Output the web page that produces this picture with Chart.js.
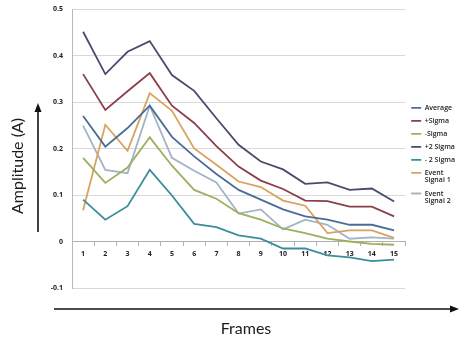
<!DOCTYPE html>
<html>
<head>
<meta charset="utf-8">
<script src="https://cdn.jsdelivr.net/npm/chart.js@4"></script>
<style>
  html, body { margin: 0; padding: 0; background: #fff; }
  #wrap { width: 474px; height: 349px; position: relative; }
</style>
</head>
<body>
<div id="wrap"><canvas id="ampChart"></canvas></div>
<script>
const frames = ["1", "2", "3", "4", "5", "6", "7", "8", "9", "10", "11", "12", "13", "14", "15"];

const average     = [0.270, 0.204, 0.244, 0.292, 0.225, 0.183, 0.145, 0.111, 0.090, 0.069, 0.054, 0.047, 0.036, 0.036, 0.024];
const plusSigma   = [0.360, 0.283, 0.323, 0.362, 0.292, 0.255, 0.205, 0.161, 0.131, 0.113, 0.088, 0.087, 0.075, 0.075, 0.054];
const minusSigma  = [0.180, 0.126, 0.159, 0.224, 0.163, 0.111, 0.092, 0.061, 0.047, 0.028, 0.018, 0.006, 0.000, -0.005, -0.007];
const plus2Sigma  = [0.451, 0.360, 0.408, 0.431, 0.358, 0.324, 0.265, 0.208, 0.172, 0.155, 0.124, 0.127, 0.111, 0.114, 0.086];
const minus2Sigma = [0.090, 0.047, 0.076, 0.154, 0.099, 0.038, 0.031, 0.013, 0.006, -0.015, -0.015, -0.030, -0.034, -0.042, -0.039];
const eventSignal1 = [0.067, 0.251, 0.195, 0.319, 0.281, 0.200, 0.165, 0.129, 0.117, 0.088, 0.077, 0.018, 0.024, 0.024, 0.008];
const eventSignal2 = [0.249, 0.154, 0.147, 0.292, 0.180, 0.152, 0.127, 0.060, 0.069, 0.026, 0.047, 0.036, 0.006, 0.009, 0.006];

const seriesNames = ["Average", "+Sigma", "-Sigma", "+2 Sigma", "- 2 Sigma", "Event Signal 1", "Event Signal 2"];
const yTicks = { min: -0.1, max: 0.5, step: 0.1 };
const xTitle = "Frames";
const yTitle = "Amplitude (A)";

const colors = ["#4a6c96", "#8a3f4a", "#9daf5e", "#4a4a6c", "#3b8e99", "#d9a25f", "#a3b3c8"];
const seriesData = [average, plusSigma, minusSigma, plus2Sigma, minus2Sigma, eventSignal1, eventSignal2];

// axis titles + arrows drawn outside the plot, like the original figure
const arrowTitles = {
  id: "arrowTitles",
  afterDraw(chart) {
    const ctx = chart.ctx;
    ctx.save();
    ctx.strokeStyle = "#111";
    ctx.fillStyle = "#111";
    ctx.lineWidth = 1.6;
    // y arrow
    ctx.beginPath(); ctx.moveTo(38, 232); ctx.lineTo(38, 110); ctx.stroke();
    ctx.beginPath(); ctx.moveTo(38, 103); ctx.lineTo(34.5, 112); ctx.lineTo(41.5, 112); ctx.closePath(); ctx.fill();
    // x arrow
    ctx.beginPath(); ctx.moveTo(54, 309); ctx.lineTo(452, 309); ctx.stroke();
    ctx.beginPath(); ctx.moveTo(459, 309); ctx.lineTo(450, 305.5); ctx.lineTo(450, 312.5); ctx.closePath(); ctx.fill();
    // titles
    ctx.fillStyle = "#1a1a1a";
    ctx.font = "16px Lato";
    ctx.textAlign = "center";
    ctx.textBaseline = "middle";
    ctx.fillText(xTitle, 246, 329);
    ctx.translate(18, 166);
    ctx.rotate(-Math.PI / 2);
    ctx.fillText(yTitle, 0, 0);
    ctx.restore();
  }
};

const ctx = document.getElementById("ampChart").getContext("2d");
new Chart(ctx, {
  type: "line",
  data: {
    labels: frames,
    datasets: seriesData.map((d, i) => ({
      label: seriesNames[i],
      data: d,
      borderColor: colors[i],
      backgroundColor: colors[i],
      borderWidth: 1.8,
      pointRadius: 0,
      tension: 0,
      fill: false
    }))
  },
  options: {
    responsive: true,
    maintainAspectRatio: false,
    animation: false,
    layout: { padding: { left: 0, top: 9, bottom: 61, right: 9 } },
    plugins: {
      tooltip: { enabled: false },
      legend: {
        position: "right",
        title: { display: true, text: " ", font: { size: 6, lineHeight: 1 }, padding: 3 }, // nudges entries down a bit
        labels: {
          usePointStyle: true,
          pointStyle: "line",
          pointStyleWidth: 10,
          padding: 6,
          color: "#222",
          font: { family: "Open Sans", size: 7, weight: "600", lineHeight: 1.05 },
          generateLabels(chart) {
            const items = Chart.defaults.plugins.legend.labels.generateLabels(chart);
            items.forEach(it => {
              if (it.text.startsWith("Event ")) it.text = ["Event", it.text.slice(6)];
            });
            return items;
          }
        }
      }
    },
    scales: {
      x: {
        position: { y: 0 },
        offset: true,
        grid: { offset: true, drawOnChartArea: false, tickLength: 4, color: "#b0b0b0" },
        border: { color: "#b0b0b0" },
        ticks: { padding: 4, color: "#222", font: { family: "Open Sans", size: 7, weight: "bold" }, maxRotation: 0 }
      },
      y: {
        min: yTicks.min,
        max: yTicks.max,
        afterFit(scale) { scale.width = 72; },
        ticks: {
          stepSize: yTicks.step,
          padding: 4,
          color: "#222",
          font: { family: "Open Sans", size: 7, weight: "bold" },
          callback: v => String(Number(v.toFixed(1)))
        },
        grid: { color: "#d9d9d9", tickLength: 5, tickColor: "rgba(0,0,0,0)" },
        border: { color: "#b8b8b8" }
      }
    }
  },
  plugins: [arrowTitles]
});
</script>
</body>
</html>
